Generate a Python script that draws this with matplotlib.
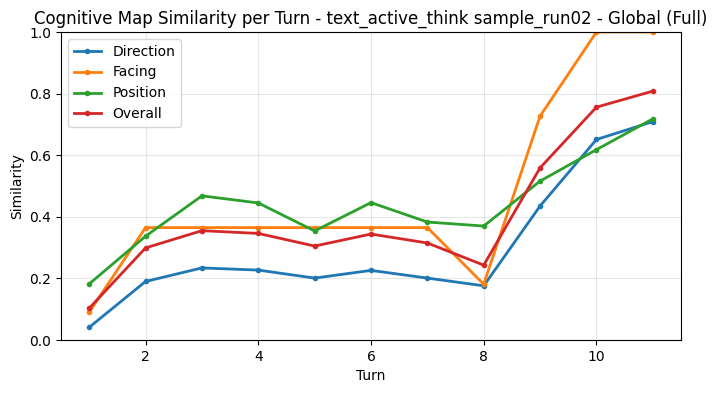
import matplotlib
matplotlib.use("Agg")
import matplotlib.pyplot as plt

turns = [1, 2, 3, 4, 5, 6, 7, 8, 9, 10, 11]
direction = [0.041, 0.190, 0.234, 0.227, 0.201, 0.226, 0.201, 0.176, 0.435, 0.651, 0.709]
facing = [0.090, 0.365, 0.365, 0.365, 0.365, 0.365, 0.365, 0.181, 0.727, 1.0, 1.0]
position = [0.182, 0.337, 0.468, 0.445, 0.354, 0.446, 0.383, 0.370, 0.516, 0.618, 0.718]
overall = [0.103, 0.299, 0.355, 0.346, 0.305, 0.344, 0.315, 0.243, 0.559, 0.756, 0.808]

fig = plt.figure(figsize=(7.17, 3.93), dpi=100)
ax = fig.add_axes([61 / 717, 53 / 393, 620 / 717, 308 / 393])

ax.plot(turns, direction, marker="o", markersize=3, linewidth=2, label="Direction")
ax.plot(turns, facing, marker="o", markersize=3, linewidth=2, label="Facing")
ax.plot(turns, position, marker="o", markersize=3, linewidth=2, label="Position")
ax.plot(turns, overall, marker="o", markersize=3, linewidth=2, label="Overall")

ax.set_ylim(0, 1.0)
ax.set_xlabel("Turn")
ax.set_ylabel("Similarity")
ax.set_title("Cognitive Map Similarity per Turn - text_active_think sample_run02 - Global (Full)")
ax.grid(True, alpha=0.3)
ax.legend(loc="upper left")

fig.savefig("out.png", dpi=100)
